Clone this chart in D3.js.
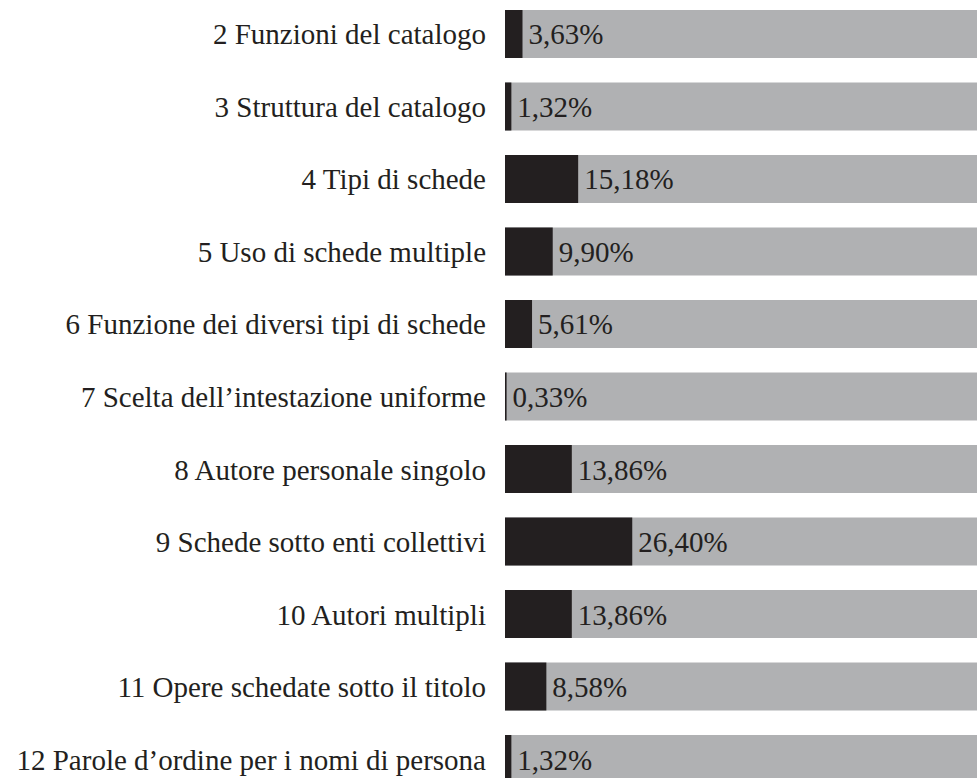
<!DOCTYPE html>
<html>
<head>
<meta charset="utf-8">
<script src="https://cdn.jsdelivr.net/npm/d3@7"></script>
<style>
  body { margin: 0; background: #fff; }
  svg { display: block; }
</style>
</head>
<body>
<svg id="chart" width="977" height="778"></svg>
<script>
const categories = [
  "2 Funzioni del catalogo",
  "3 Struttura del catalogo",
  "4 Tipi di schede",
  "5 Uso di schede multiple",
  "6 Funzione dei diversi tipi di schede",
  "7 Scelta dell\u2019intestazione uniforme",
  "8 Autore personale singolo",
  "9 Schede sotto enti collettivi",
  "10 Autori multipli",
  "11 Opere schedate sotto il titolo",
  "12 Parole d\u2019ordine per i nomi di persona"
];
const values = [3.63, 1.32, 15.18, 9.90, 5.61, 0.33, 13.86, 26.40, 13.86, 8.58, 1.32];
const maxValue = 100;

const svg = d3.select("#chart");
const fmt = v => d3.format(".2f")(v).replace(".", ",") + "%";

// scales
const x = d3.scaleLinear().domain([0, maxValue]).range([505, 987]);
const y = d3.scaleBand()
  .domain(categories)
  .range([10, 783])
  .paddingInner(0.338)
  .paddingOuter(0);

const rows = svg.selectAll("g.row")
  .data(categories.map((c, i) => ({ cat: c, val: values[i] })))
  .join("g")
  .attr("class", "row");

// gray full bar
rows.append("rect")
  .attr("x", x(0))
  .attr("y", d => y(d.cat))
  .attr("width", x(maxValue) - x(0))
  .attr("height", y.bandwidth())
  .attr("fill", "#b0b1b3");

// black value bar
rows.append("rect")
  .attr("x", x(0))
  .attr("y", d => y(d.cat))
  .attr("width", d => Math.max(1.5, x(d.val) - x(0)))
  .attr("height", y.bandwidth())
  .attr("fill", "#231f20");

// category labels
rows.append("text")
  .attr("x", 486)
  .attr("y", d => y(d.cat) + y.bandwidth() / 2 + 10.5)
  .attr("text-anchor", "end")
  .style("font-family", "'Liberation Serif'")
  .attr("font-size", 29)
  .attr("fill", "#231f20")
  .text(d => d.cat);

// value labels
rows.append("text")
  .attr("x", d => Math.max(x(d.val), x(0) + 1.5) + 6)
  .attr("y", d => y(d.cat) + y.bandwidth() / 2 + 10.5)
  .style("font-family", "'Liberation Serif'")
  .attr("font-size", 29)
  .attr("fill", "#231f20")
  .text(d => fmt(d.val));
</script>
</body>
</html>
